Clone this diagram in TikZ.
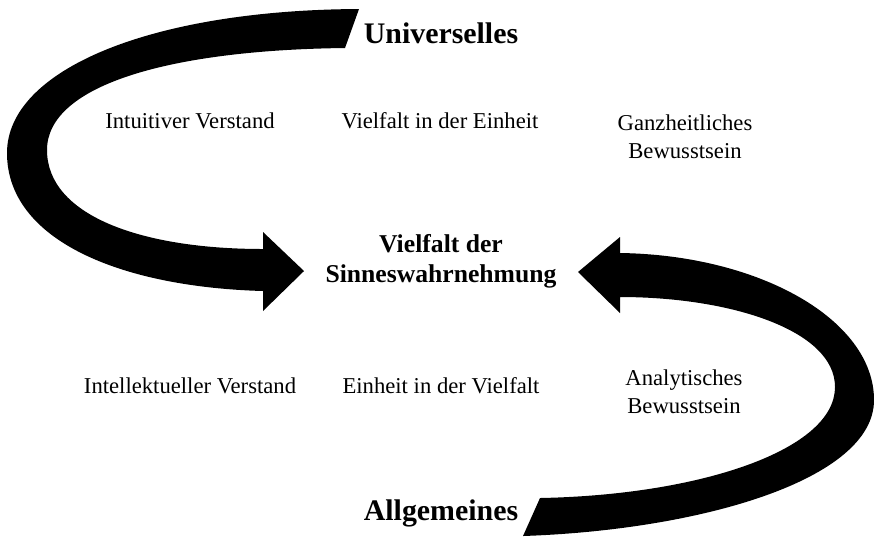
\documentclass[tikz,border=0pt]{standalone}
\usepackage{fontspec}
\setmainfont{Liberation Serif}
\usepackage{tikz}

\tikzset{
  txt/.style={inner sep=0pt,anchor=base,align=center,
    font=\fontsize{12.9}{15.5}\selectfont},
  pol/.style={inner sep=0pt,anchor=base,
    font=\fontsize{17}{20}\selectfont\bfseries},
  mid/.style={inner sep=0pt,anchor=base,align=center,
    font=\fontsize{14.6}{17}\selectfont\bfseries},
  bigarrow/.style={fill=black}
}

\begin{document}
\begin{tikzpicture}[x=0.02cm,y=-0.02cm]
    \useasboundingbox (0,0) rectangle (874,539);
    % upper arrow
    \fill[bigarrow] (263,232) -- (304,271) -- (263,311) -- (263,291)
      .. controls (120,287) and (7,240) .. (7,153)
      .. controls (7,70) and (150,10) .. (359,9)
      -- (345,48)
      .. controls (170,50) and (47,85) .. (47,150)
      .. controls (47,215) and (140,249) .. (263,249) -- cycle;
    % lower arrow
    \fill[bigarrow] (578,272) -- (620,237) -- (620,253)
      .. controls (760,255) and (874,320) .. (874,400)
      .. controls (874,480) and (700,530) .. (523,536)
      -- (540,498)
      .. controls (700,495) and (835,450) .. (835,387)
      .. controls (835,330) and (730,297) .. (620,297)
      -- (620,313) -- cycle;
    %
    \node[pol] (univ) at (441,43) {Universelles};
    \node[pol] (allg) at (441,520) {Allgemeines};
    \node[mid] (sinn) at (441,282) {Vielfalt der\\Sinneswahrnehmung};
    \node[txt] (intu) at (190,128) {Intuitiver Verstand};
    \node[txt] (vein) at (440,128) {Vielfalt in der Einheit};
    \node[txt] (ganz) at (685,158) {Ganzheitliches\\Bewusstsein};
    \node[txt] (inte) at (190,393) {Intellektueller Verstand};
    \node[txt] (einv) at (441,393) {Einheit in der Vielfalt};
    \node[txt] (anal) at (684,413) {Analytisches\\Bewusstsein};
\end{tikzpicture}
\end{document}
